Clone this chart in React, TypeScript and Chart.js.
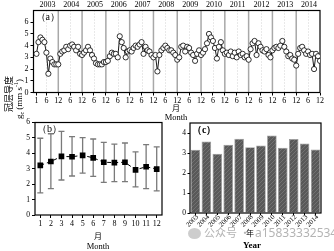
import React, { useEffect, useRef } from "react";
import { Chart, registerables } from "chart.js";
Chart.register(...registerables);

// ---------- data ----------
const years = ["2003", "2004", "2005", "2006", "2007", "2008", "2009", "2010", "2011", "2012", "2013", "2014"];

const gc2003 = [3.3, 4.3, 4.7, 4.5, 4.3, 3.4, 1.6, 2.9, 2.6, 2.4, 2.4, 2.4];
const gc2004 = [3.3, 3.5, 3.6, 3.9, 3.7, 4.0, 4.1, 3.9, 3.6, 3.9, 3.3, 3.2];
const gc2005 = [3.4, 3.6, 3.9, 3.6, 3.2, 2.9, 2.5, 2.4, 2.4, 2.4, 2.6, 2.6];
const gc2006 = [2.7, 3.1, 3.4, 3.3, 3.3, 3.0, 4.8, 4.3, 3.8, 3.0, 3.5, 3.6];
const gc2007 = [3.5, 3.8, 4.0, 3.9, 4.1, 4.3, 3.3, 3.9, 3.6, 3.5, 3.2, 3.0];
const gc2008 = [3.2, 1.8, 3.2, 3.6, 3.8, 4.0, 3.8, 3.6, 3.6, 3.4, 3.2, 2.8];
const gc2009 = [3.0, 3.9, 4.0, 3.5, 3.9, 3.8, 3.4, 3.2, 2.7, 3.3, 3.6, 3.2];
const gc2010 = [3.4, 3.7, 4.2, 5.0, 4.7, 4.4, 3.8, 2.9, 3.9, 4.3, 3.6, 3.3];
const gc2011 = [3.4, 3.2, 3.5, 3.1, 3.4, 3.0, 3.5, 3.2, 3.3, 3.0, 3.1, 2.8];
const gc2012 = [3.7, 4.2, 4.4, 3.2, 4.2, 3.9, 3.6, 3.5, 3.7, 3.2, 3.0, 3.6];
const gc2013 = [3.8, 3.9, 3.8, 4.0, 4.4, 3.9, 3.5, 3.1, 3.2, 2.9, 2.8, 2.3];
const gc2014 = [3.3, 3.8, 3.9, 3.6, 3.3, 3.5, 3.2, 3.3, 2.0, 3.3, 3.1, 2.7];
const monthlySeries = [gc2003, gc2004, gc2005, gc2006, gc2007, gc2008, gc2009, gc2010, gc2011, gc2012, gc2013, gc2014];

const monthTicksA = [1, 6, 12, 18, 24, 30, 36, 42, 48, 54, 60, 66, 72, 78, 84, 90, 96, 102, 108, 114, 120, 126, 132, 138, 144];
const yTicksA = [0, 1, 2, 3, 4, 5, 6];

const monthsB = [1, 2, 3, 4, 5, 6, 7, 8, 9, 10, 11, 12];
const meanB = [3.22, 3.47, 3.8, 3.78, 3.87, 3.71, 3.42, 3.4, 3.42, 2.93, 3.13, 2.98];
const upperB = [4.98, 5.27, 5.42, 5.09, 5.02, 4.93, 4.71, 4.6, 4.67, 4.09, 4.56, 4.42];
const lowerB = [1.44, 1.71, 2.27, 2.53, 2.71, 2.51, 2.11, 2.16, 2.16, 1.82, 1.71, 1.56];
const yTicksB = [0, 1, 2, 3, 4, 5, 6];

const yearMeanC = [3.16, 3.58, 2.96, 3.41, 3.71, 3.29, 3.38, 3.88, 3.26, 3.7, 3.48, 3.18];
const yTicksC = [0, 1, 2, 3, 4];

const SERIF = "'Liberation Serif', 'Times New Roman', serif";
const CJK = "'Noto Sans CJK SC', sans-serif";

function panelPlugin(label: string, extra?: (chart: any) => void) {
  return {
    id: "panel" + label,
    beforeDatasetsDraw(chart: any) {
      const { ctx, chartArea } = chart;
      ctx.save();
      if (extra) extra(chart);
      ctx.strokeStyle = "#000";
      ctx.lineWidth = 1.2;
      ctx.strokeRect(chartArea.left, chartArea.top, chartArea.right - chartArea.left, chartArea.bottom - chartArea.top);
      ctx.fillStyle = "#000";
      ctx.font = `10px ${SERIF}`;
      ctx.textBaseline = "middle";
      ctx.textAlign = "left";
      ctx.fillText(label, chartArea.left + 2, chartArea.top + 7);
      ctx.restore();
    },
  };
}

function fixTicks(values: number[]) {
  return (s: any) => {
    s.ticks = values.map((v) => ({ value: v }));
  };
}

export default function App() {
  const refA = useRef<HTMLCanvasElement>(null);
  const refB = useRef<HTMLCanvasElement>(null);
  const refC = useRef<HTMLCanvasElement>(null);

  useEffect(() => {
    const charts: Chart[] = [];
    const tickFont = { family: SERIF, size: 8 };

    // ---------- panel (a) ----------
    const dataA: { x: number; y: number }[] = [];
    monthlySeries.forEach((arr, yi) => arr.forEach((v, mi) => dataA.push({ x: yi * 12 + mi + 1, y: v })));
    const sepLines = (chart: any) => {
      const { ctx, chartArea, scales } = chart;
      const x = scales.x;
      years.forEach((_, i) => {
        const mid = Math.round(x.getPixelForValue(6 + 12 * i)) + 0.5;
        ctx.strokeStyle = "#c8c8c8";
        ctx.lineWidth = 0.8;
        ctx.setLineDash([1, 2]);
        ctx.beginPath();
        ctx.moveTo(mid, chartArea.top);
        ctx.lineTo(mid, chartArea.bottom);
        ctx.stroke();
        if (i < years.length - 1) {
          const b = x.getPixelForValue(12 * (i + 1));
          ctx.setLineDash([]);
          ctx.strokeStyle = "#a8a8a8";
          ctx.lineWidth = 1.5;
          ctx.beginPath();
          ctx.moveTo(b, chartArea.top);
          ctx.lineTo(b, chartArea.bottom);
          ctx.stroke();
        }
      });
      ctx.setLineDash([]);
    };
    charts.push(
      new Chart(refA.current!, {
        type: "line",
        data: {
          datasets: [
            {
              data: dataA,
              borderColor: "#000",
              borderWidth: 0.9,
              pointRadius: 2.6,
              pointBackgroundColor: "#fff",
              pointBorderColor: "#000",
              pointBorderWidth: 0.8,
              tension: 0,
            },
          ],
        },
        options: {
          responsive: false,
          animation: false,
          devicePixelRatio: 1,
          layout: { padding: { left: 0, right: 14, top: 0, bottom: 0 } },
          plugins: { legend: { display: false }, tooltip: { enabled: false } },
          scales: {
            x: {
              type: "linear",
              position: "bottom",
              min: -0.5,
              max: 144,
              afterBuildTicks: fixTicks(monthTicksA),
              afterFit: (s: any) => {
                s.height = 19.5;
              },
              ticks: {
                autoSkip: false,
                maxRotation: 0,
                padding: 1,
                color: "#000",
                font: tickFont,
                callback: (v: any) => (v === 1 ? "1" : v % 12 === 0 ? "12" : "6"),
              },
              grid: { drawOnChartArea: false, tickLength: 3, tickColor: "#000" },
              border: { display: false },
            },
            xTop: {
              type: "linear",
              position: "top",
              min: -0.5,
              max: 144,
              afterBuildTicks: fixTicks(years.map((_, i) => 6.5 + 12 * i)),
              afterFit: (s: any) => {
                s.height = 10.5;
              },
              ticks: {
                autoSkip: false,
                maxRotation: 0,
                padding: 1,
                color: "#000",
                font: tickFont,
                callback: (_v: any, i: number) => years[i],
              },
              grid: { display: false, drawTicks: false },
              border: { display: false },
            },
            y: {
              min: 0,
              max: 7,
              afterBuildTicks: fixTicks(yTicksA),
              afterFit: (s: any) => {
                s.width = 33.5;
              },
              ticks: { padding: 2, color: "#000", font: tickFont },
              grid: { drawOnChartArea: false, tickLength: 3, tickColor: "#000" },
              border: { display: false },
            },
          },
        } as any,
        plugins: [panelPlugin("（a）", sepLines)],
      })
    );

    // ---------- panel (b) ----------
    const errBars = (chart: any) => {
      const { ctx, scales } = chart;
      ctx.strokeStyle = "#7a7a7a";
      ctx.lineWidth = 1.3;
      monthsB.forEach((m, i) => {
        const px = scales.x.getPixelForValue(m);
        const hi = scales.y.getPixelForValue(upperB[i]);
        const lo = scales.y.getPixelForValue(lowerB[i]);
        ctx.beginPath();
        ctx.moveTo(px, hi);
        ctx.lineTo(px, lo);
        ctx.moveTo(px - 3, hi);
        ctx.lineTo(px + 3, hi);
        ctx.moveTo(px - 3, lo);
        ctx.lineTo(px + 3, lo);
        ctx.stroke();
      });
    };
    charts.push(
      new Chart(refB.current!, {
        type: "line",
        data: {
          datasets: [
            {
              data: monthsB.map((m, i) => ({ x: m, y: meanB[i] })),
              borderColor: "#000",
              borderWidth: 1,
              borderDash: [4, 3],
              pointStyle: "rect",
              pointRadius: 4,
              pointBackgroundColor: "#000",
              pointBorderColor: "#000",
              pointBorderWidth: 0,
              tension: 0,
            },
          ],
        },
        options: {
          responsive: false,
          animation: false,
          devicePixelRatio: 1,
          layout: { padding: { left: 0, right: 13, top: 10.5, bottom: 0 } },
          plugins: { legend: { display: false }, tooltip: { enabled: false } },
          scales: {
            x: {
              type: "linear",
              min: 0.5,
              max: 12.5,
              afterBuildTicks: fixTicks(monthsB),
              afterFit: (s: any) => {
                s.height = 36;
              },
              ticks: { autoSkip: false, maxRotation: 0, padding: 1, color: "#000", font: tickFont },
              grid: { drawOnChartArea: false, tickLength: 3, tickColor: "#000" },
              border: { display: false },
            },
            y: {
              min: 0,
              max: 6,
              afterBuildTicks: fixTicks(yTicksB),
              afterFit: (s: any) => {
                s.width = 35;
              },
              ticks: { padding: 2, color: "#000", font: { family: SERIF, size: 7.5 } },
              grid: { drawOnChartArea: false, tickLength: 3, tickColor: "#000" },
              border: { display: false },
            },
          },
        } as any,
        plugins: [panelPlugin("（b）", errBars)],
      })
    );

    // ---------- panel (c) ----------
    const pc = document.createElement("canvas");
    pc.width = 4;
    pc.height = 4;
    const pctx = pc.getContext("2d")!;
    pctx.fillStyle = "#595959";
    pctx.fillRect(0, 0, 4, 4);
    pctx.strokeStyle = "#727272";
    pctx.lineWidth = 1;
    pctx.beginPath();
    pctx.moveTo(0, 4);
    pctx.lineTo(4, 0);
    pctx.stroke();
    const ctxC = refC.current!.getContext("2d")!;
    const hatch = ctxC.createPattern(pc, "repeat");
    charts.push(
      new Chart(refC.current!, {
        type: "bar",
        data: {
          labels: years,
          datasets: [
            {
              data: yearMeanC,
              backgroundColor: hatch as any,
              borderColor: "#9a9a9a",
              borderWidth: 0.8,
              barPercentage: 0.88,
              categoryPercentage: 1,
            },
          ],
        },
        options: {
          responsive: false,
          animation: false,
          devicePixelRatio: 1,
          layout: { padding: { left: 0, right: 13, top: 11, bottom: 0 } },
          plugins: { legend: { display: false }, tooltip: { enabled: false } },
          scales: {
            x: {
              afterFit: (s: any) => {
                s.height = 38;
              },
              ticks: { display: false },
              grid: { offset: false, drawOnChartArea: false, tickLength: 2, tickColor: "#000" },
              border: { display: false },
            },
            y: {
              min: 0,
              max: 4.5,
              afterBuildTicks: fixTicks(yTicksC),
              afterFit: (s: any) => {
                s.width = 15;
              },
              ticks: { padding: 1.5, color: "#000", font: { family: SERIF, size: 7.5 } },
              grid: { drawOnChartArea: false, tickLength: 2.5, tickColor: "#000" },
              border: { display: false },
            },
          },
        } as any,
        plugins: [
          {
            id: "frameC",
            afterDatasetsDraw(chart: any) {
              const { ctx, chartArea, scales } = chart;
              ctx.save();
              ctx.strokeStyle = "#000";
              ctx.lineWidth = 1.2;
              ctx.strokeRect(chartArea.left, chartArea.top, chartArea.right - chartArea.left, chartArea.bottom - chartArea.top);
              ctx.fillStyle = "#000";
              ctx.font = `bold 10px ${SERIF}`;
              ctx.textBaseline = "middle";
              ctx.textAlign = "left";
              ctx.fillText("（c）", chartArea.left + 2, chartArea.top + 7);
              // rotated year labels
              ctx.font = `7px ${SERIF}`;
              ctx.textAlign = "right";
              years.forEach((yr, i) => {
                const px = scales.x.getPixelForValue(i);
                ctx.save();
                ctx.translate(px + 2, chartArea.bottom + 3);
                ctx.rotate(-Math.PI / 4);
                ctx.fillText(yr, 0, 0);
                ctx.restore();
              });
              ctx.restore();
            },
          },
        ],
      })
    );

    return () => charts.forEach((c) => c.destroy());
  }, []);

  const abs = (left: number, top: number, extra: React.CSSProperties = {}): React.CSSProperties => ({
    position: "absolute",
    left,
    top,
    transform: "translate(-50%, -50%)",
    whiteSpace: "nowrap",
    lineHeight: 1,
    color: "#000",
    ...extra,
  });

  return (
    <div style={{ position: "fixed", left: 0, top: 0, width: 334, height: 251, background: "#fff", overflow: "hidden" }}>
      <canvas ref={refA} width={334} height={112} style={{ position: "absolute", left: 0, top: 0, width: 334, height: 112 }} />
      <canvas ref={refB} width={175} height={139} style={{ position: "absolute", left: 0, top: 112, width: 175, height: 139 }} />
      <canvas ref={refC} width={159} height={139} style={{ position: "absolute", left: 175, top: 112, width: 159, height: 139 }} />

      <div style={abs(8, 94, { transform: "translate(-50%, -50%) rotate(-90deg)", fontFamily: CJK, fontSize: 9 })}>冠层导度</div>
      <div style={abs(19, 99, { transform: "translate(-50%, -50%) rotate(-90deg)", fontFamily: SERIF, fontSize: 9 })}>
        g<sub style={{ fontSize: 6 }}>c</sub> (mm s<sup style={{ fontSize: 6 }}>-1</sup>)
      </div>

      <div style={abs(176, 108, { fontFamily: CJK, fontSize: 8 })}>月</div>
      <div style={abs(176, 117, { fontFamily: SERIF, fontSize: 8.5 })}>Month</div>

      <div style={abs(98, 236, { fontFamily: CJK, fontSize: 8 })}>月</div>
      <div style={abs(98, 246, { fontFamily: SERIF, fontSize: 8.5 })}>Month</div>

      <div style={abs(250, 233, { fontFamily: CJK, fontSize: 8 })}>年</div>
      <div style={abs(252, 245, { fontFamily: SERIF, fontSize: 9, fontWeight: "bold" })}>Year</div>

      <div style={{ position: "absolute", left: 188, top: 228, width: 13, height: 11, borderRadius: "50%", background: "#c4c4c4", opacity: 0.85 }} />
      <div style={{ position: "absolute", left: 204, top: 226, fontFamily: "'Noto Sans CJK SC', sans-serif", fontSize: 11, color: "#b4b4b4", whiteSpace: "nowrap", lineHeight: 1.2 }}>
        公众号 ·
      </div>
      <div style={{ position: "absolute", left: 255, top: 226, fontFamily: "'Noto Sans', sans-serif", fontSize: 12, color: "#b4b4b4", whiteSpace: "nowrap", lineHeight: 1.1 }}>
        a15833332534
      </div>
    </div>
  );
}
